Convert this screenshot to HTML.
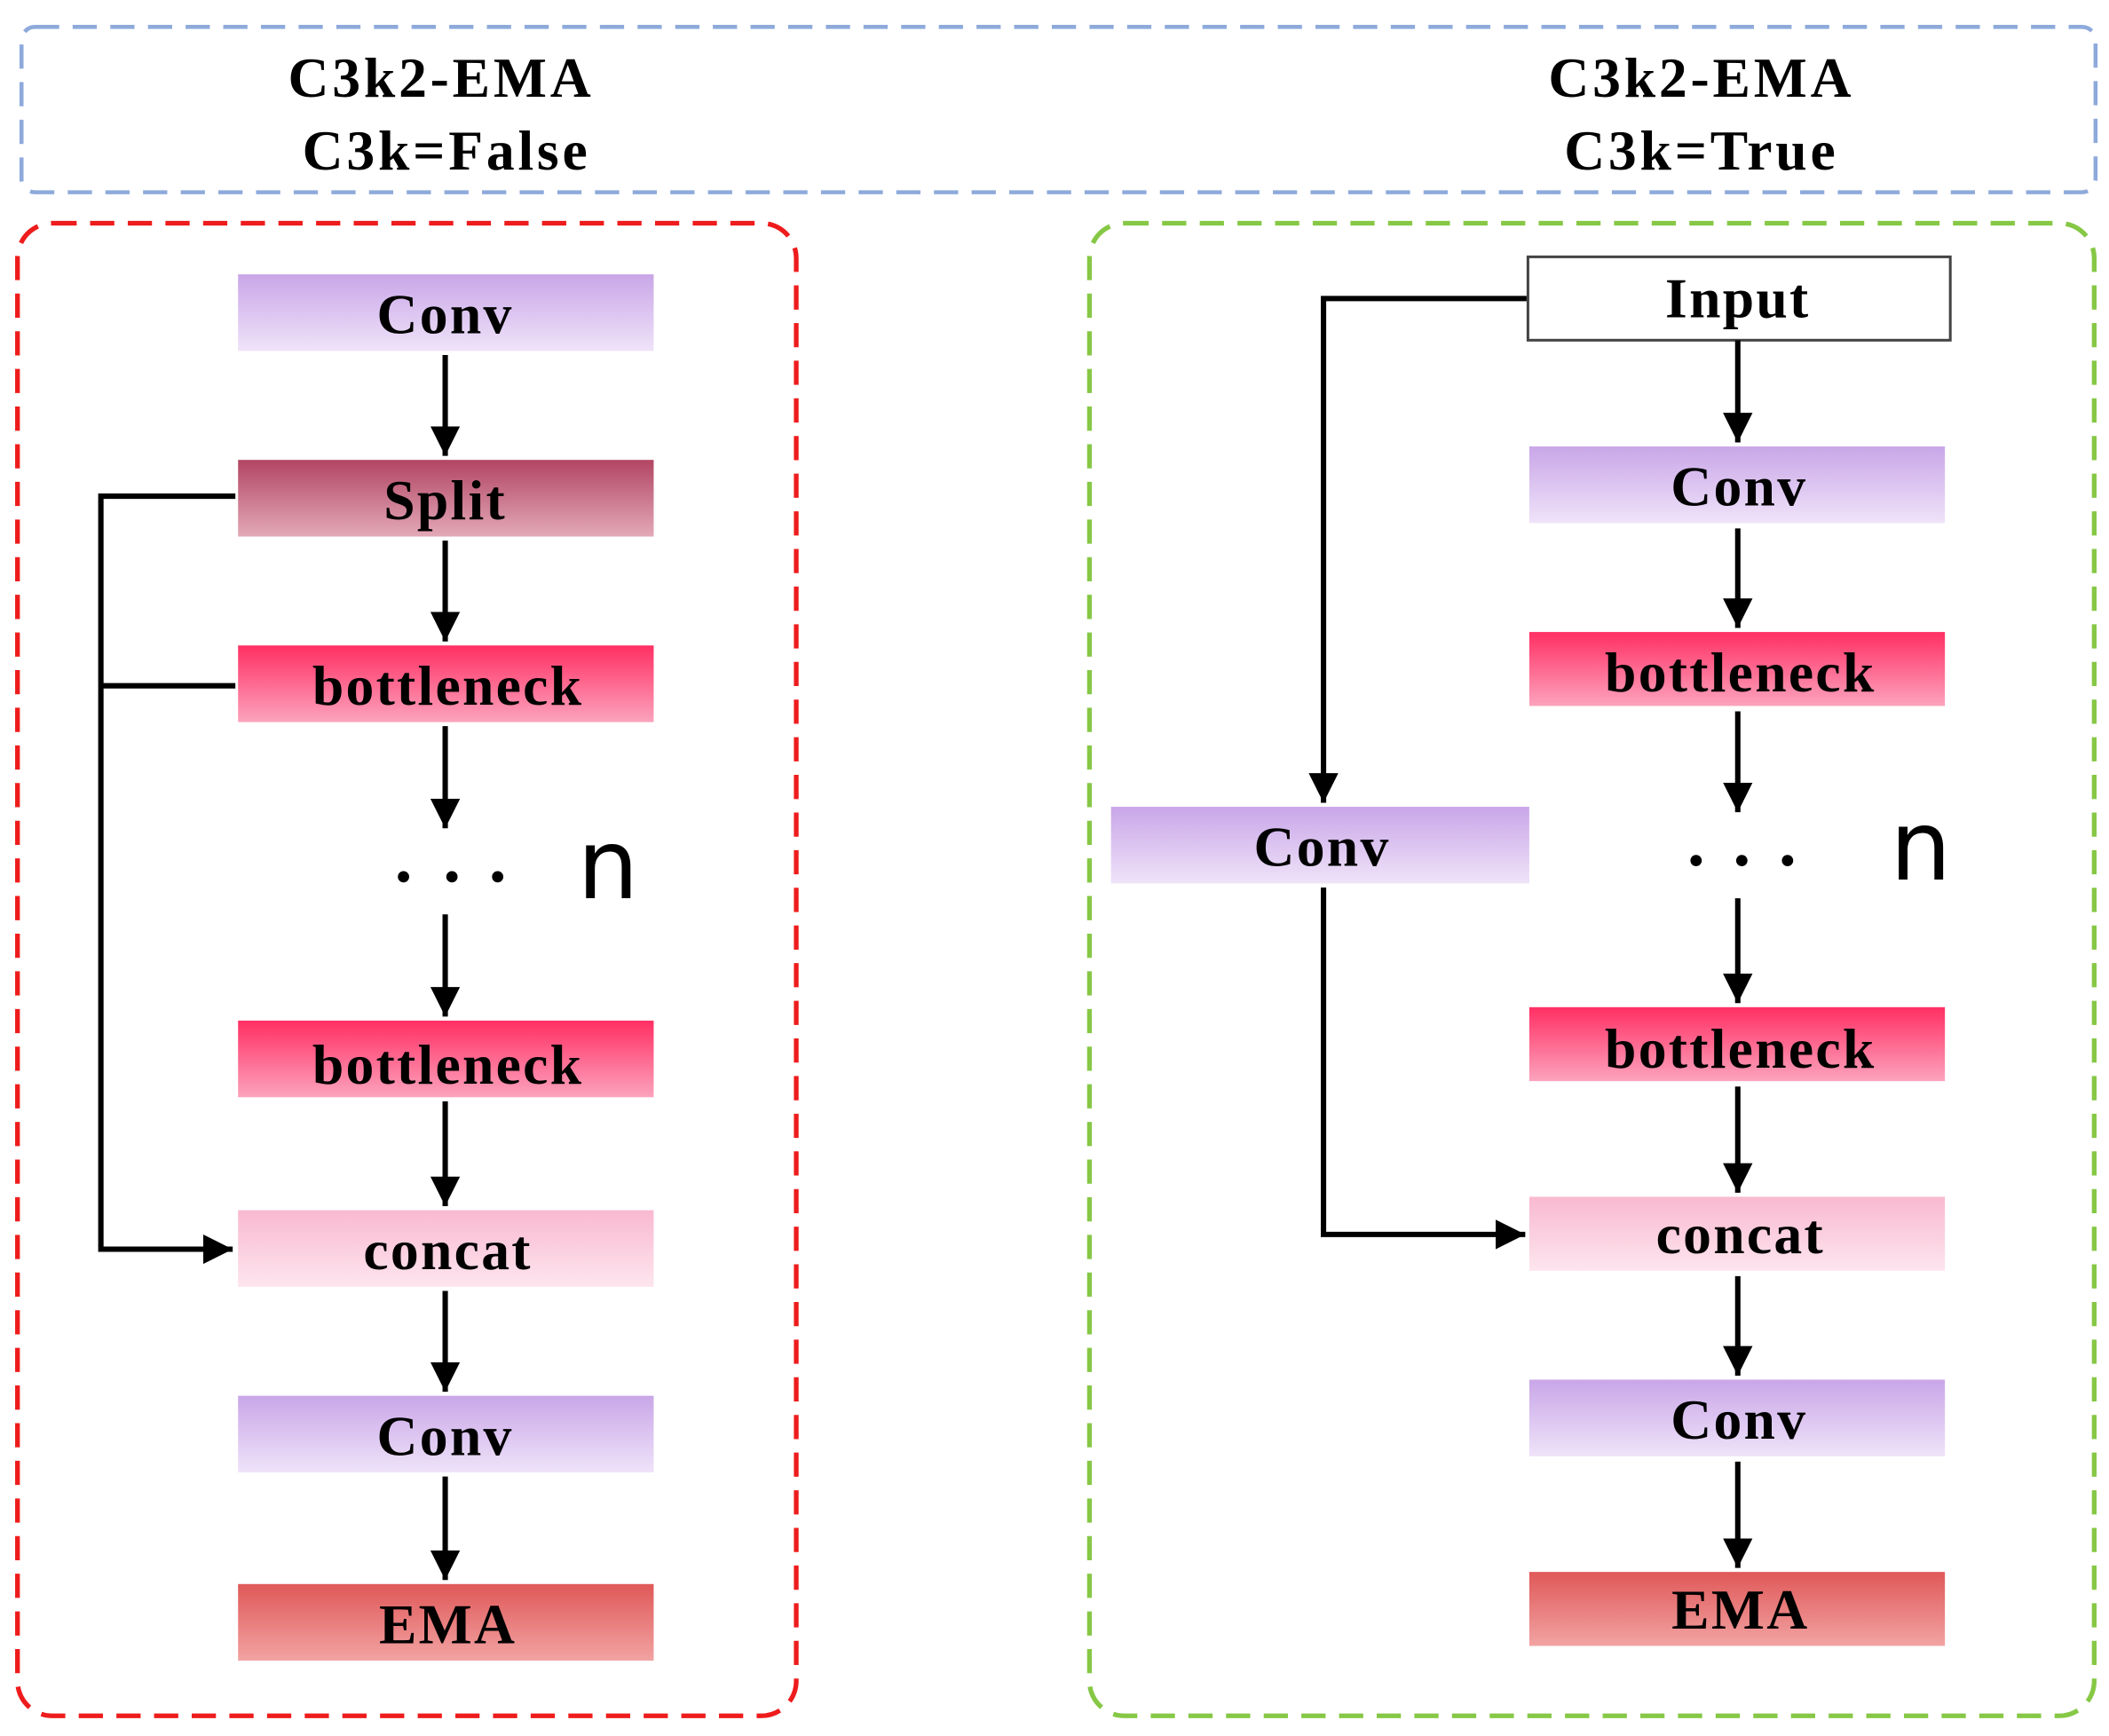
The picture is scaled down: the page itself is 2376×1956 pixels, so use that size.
<!DOCTYPE html>
<html><head><meta charset="utf-8"><style>
html,body{margin:0;padding:0;background:#fff;width:2376px;height:1956px;overflow:hidden}
svg{display:block}
text{font-family:"Liberation Serif",serif;font-weight:bold;fill:#000}
</style></head><body>
<svg width="2376" height="1956" viewBox="0 0 1568 1291" preserveAspectRatio="none" xmlns="http://www.w3.org/2000/svg">
<defs>
<linearGradient id="gConv" x1="0" y1="0" x2="0" y2="1"><stop offset="0" stop-color="#c9a6e8"/><stop offset="1" stop-color="#efe3f9"/></linearGradient>
<linearGradient id="gSplit" x1="0" y1="0" x2="0" y2="1"><stop offset="0" stop-color="#b24563"/><stop offset="1" stop-color="#e3a9b8"/></linearGradient>
<linearGradient id="gBn" x1="0" y1="0" x2="0" y2="1"><stop offset="0" stop-color="#ff2f63"/><stop offset="1" stop-color="#fca3bd"/></linearGradient>
<linearGradient id="gCc" x1="0" y1="0" x2="0" y2="1"><stop offset="0" stop-color="#f9b9d0"/><stop offset="1" stop-color="#fde5ee"/></linearGradient>
<linearGradient id="gEma" x1="0" y1="0" x2="0" y2="1"><stop offset="0" stop-color="#e05858"/><stop offset="1" stop-color="#f2a3a3"/></linearGradient>
<marker id="ah" viewBox="0 0 10 10" refX="10" refY="5" markerWidth="5.5" markerHeight="5.5" markerUnits="strokeWidth" orient="auto"><path d="M0,0 L10,5 L0,10 z" fill="#000"/></marker>
</defs>
<rect x="16" y="20" width="1542" height="123" rx="10" fill="none" stroke="#8eaadb" stroke-width="3" stroke-dasharray="18,10"/>
<g font-size="42" text-anchor="middle" letter-spacing="2.5">
<text x="328" y="72">C3k2-EMA</text>
<text x="332" y="126">C3k=False</text>
<text x="1265" y="72">C3k2-EMA</text>
<text x="1265" y="126">C3k=True</text>
</g>
<rect x="13" y="166" width="579" height="1110" rx="26" fill="none" stroke="#ee1c1c" stroke-width="3.5" stroke-dasharray="18,10"/>
<rect x="810" y="166" width="747" height="1110" rx="26" fill="none" stroke="#86c846" stroke-width="3.5" stroke-dasharray="18,10"/>

<g font-size="42" text-anchor="middle" letter-spacing="1.5">
<rect x="177" y="204" width="309" height="57" fill="url(#gConv)"/><text x="331" y="248">Conv</text>
<rect x="177" y="342" width="309" height="57" fill="url(#gSplit)"/><text x="331" y="386">Split</text>
<rect x="177" y="480" width="309" height="57" fill="url(#gBn)"/><text x="333" y="524">bottleneck</text>
<rect x="177" y="759" width="309" height="57" fill="url(#gBn)"/><text x="333" y="806">bottleneck</text>
<rect x="177" y="900" width="309" height="57" fill="url(#gCc)"/><text x="333" y="944">concat</text>
<rect x="177" y="1038" width="309" height="57" fill="url(#gConv)"/><text x="331" y="1082">Conv</text>
<rect x="177" y="1178" width="309" height="57" fill="url(#gEma)"/><text x="333" y="1222">EMA</text>

<rect x="1136" y="191" width="314" height="62" fill="#fff" stroke="#444" stroke-width="2"/><text x="1292" y="236">Input</text>
<rect x="1137" y="332" width="309" height="57" fill="url(#gConv)"/><text x="1293" y="376">Conv</text>
<rect x="1137" y="470" width="309" height="55" fill="url(#gBn)"/><text x="1294" y="514">bottleneck</text>
<rect x="1137" y="749" width="309" height="55" fill="url(#gBn)"/><text x="1294" y="794">bottleneck</text>
<rect x="1137" y="890" width="309" height="55" fill="url(#gCc)"/><text x="1294" y="932">concat</text>
<rect x="1137" y="1026" width="309" height="57" fill="url(#gConv)"/><text x="1293" y="1070">Conv</text>
<rect x="1137" y="1169" width="309" height="55" fill="url(#gEma)"/><text x="1294" y="1211">EMA</text>
<rect x="826" y="600" width="311" height="57" fill="url(#gConv)"/><text x="983" y="644">Conv</text>
</g>

<g fill="#000">
<circle cx="300" cy="652" r="4.2"/><circle cx="336" cy="652" r="4.2"/><circle cx="370" cy="652" r="4.2"/>
<circle cx="1261" cy="640" r="4.2"/><circle cx="1295" cy="640" r="4.2"/><circle cx="1329" cy="640" r="4.2"/>
</g>
<text x="452" y="668" font-size="72" text-anchor="middle" style="font-family:'DejaVu Sans','Liberation Sans',sans-serif;font-weight:normal">n</text>
<text x="1428" y="654" font-size="72" text-anchor="middle" style="font-family:'DejaVu Sans','Liberation Sans',sans-serif;font-weight:normal">n</text>

<g stroke="#000" stroke-width="4" fill="none" marker-end="url(#ah)">
<line x1="331" y1="264" x2="331" y2="339"/>
<line x1="331" y1="402" x2="331" y2="477"/>
<line x1="331" y1="540" x2="331" y2="616"/>
<line x1="331" y1="680" x2="331" y2="756"/>
<line x1="331" y1="819" x2="331" y2="897"/>
<line x1="331" y1="960" x2="331" y2="1035"/>
<line x1="331" y1="1098" x2="331" y2="1175"/>
<polyline points="175,369 75,369 75,929 173,929"/>
<line x1="1292" y1="253" x2="1292" y2="329"/>
<line x1="1292" y1="393" x2="1292" y2="467"/>
<line x1="1292" y1="529" x2="1292" y2="604"/>
<line x1="1292" y1="668" x2="1292" y2="746"/>
<line x1="1292" y1="808" x2="1292" y2="887"/>
<line x1="1292" y1="949" x2="1292" y2="1023"/>
<line x1="1292" y1="1087" x2="1292" y2="1166"/>
<polyline points="1135,222 984,222 984,597"/>
<polyline points="984,660 984,918 1134,918"/>
</g>
<line x1="75" y1="510" x2="175" y2="510" stroke="#000" stroke-width="4"/>
</svg>
</body></html>
